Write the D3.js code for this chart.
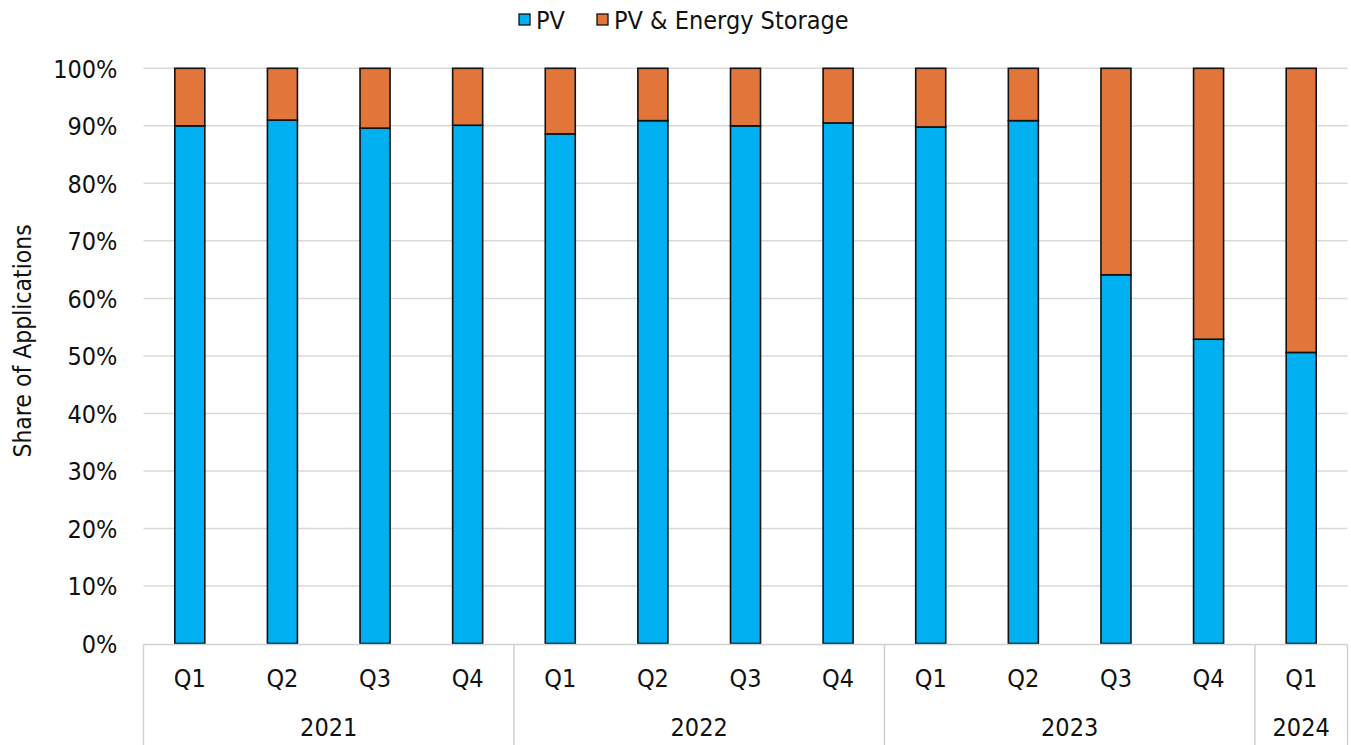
<!DOCTYPE html>
<html>
<head>
<meta charset="utf-8">
<script src="https://cdn.jsdelivr.net/npm/d3@7"></script>
<style>
  html, body { margin: 0; padding: 0; background: #fff; }
  svg { display: block; }
  text { font-family: "DejaVu Sans Condensed", "DejaVu Sans", "Liberation Sans", sans-serif; fill: #111; }
</style>
</head>
<body>
<svg id="chart" width="1351" height="745"></svg>
<script>
// Quarterly share of applications, PV only vs PV paired with energy storage (%)
const quarters = ["Q1", "Q2", "Q3", "Q4", "Q1", "Q2", "Q3", "Q4", "Q1", "Q2", "Q3", "Q4", "Q1"];
const years = ["2021", "2021", "2021", "2021", "2022", "2022", "2022", "2022", "2023", "2023", "2023", "2023", "2024"];
const pvShare = [90.0, 91.0, 89.6, 90.1, 88.6, 90.9, 90.0, 90.5, 89.8, 90.9, 64.1, 52.9, 50.6];
const storageShare = pvShare.map(v => 100 - v);
const seriesNames = ["PV", "PV & Energy Storage"];
const yTicks = [0, 10, 20, 30, 40, 50, 60, 70, 80, 90, 100];

(function () {
  const colors = { "PV": "#00B0F0", "PV & Energy Storage": "#E2763A" };
  const labelSize = "25px";

  const svg = d3.select("#chart");
  const W = 1351, H = 745;
  const plotLeft = 143.5, plotRight = 1347.5, plotTop = 68.3, plotBottom = 643.5;

  const rows = quarters.map((q, i) => ({
    key: i, quarter: q, year: years[i],
    "PV": pvShare[i], "PV & Energy Storage": storageShare[i]
  }));

  const x = d3.scaleBand().domain(rows.map(r => r.key)).range([plotLeft, plotRight])
    .paddingInner(0.676).paddingOuter(0.338);
  const y = d3.scaleLinear().domain([0, 100]).range([plotBottom, plotTop]);

  // Horizontal gridlines
  svg.append("g").selectAll("line").data(yTicks.filter(t => t > 0)).join("line")
    .attr("x1", plotLeft).attr("x2", plotRight)
    .attr("y1", d => y(d)).attr("y2", d => y(d))
    .attr("stroke", "#d9d9d9").attr("stroke-width", 1.5);

  // Y axis tick labels
  const yAxis = d3.axisLeft(y).tickValues(yTicks).tickFormat(d => d + "%").tickSize(0).tickPadding(0);
  const yg = svg.append("g").attr("transform", `translate(${plotLeft - 26},0)`).call(yAxis);
  yg.select(".domain").remove();
  yg.selectAll("text").attr("font-family", null).attr("font-size", null)
    .style("font-size", labelSize).attr("fill", "#111").attr("dy", "0.36em");

  // Stacked bars
  const layers = d3.stack().keys(seriesNames)(rows);
  svg.append("g").selectAll("g").data(layers).join("g")
    .attr("fill", d => colors[d.key])
    .selectAll("rect").data(d => d).join("rect")
    .attr("x", d => x(d.data.key))
    .attr("width", x.bandwidth())
    .attr("y", d => y(d[1]))
    .attr("height", d => y(d[0]) - y(d[1]))
    .attr("stroke", "#111").attr("stroke-width", 1.6);

  // Category axis: baseline, quarter labels, year groups
  const axisG = svg.append("g");
  axisG.append("line").attr("x1", plotLeft).attr("x2", plotRight)
    .attr("y1", plotBottom + 1).attr("y2", plotBottom + 1)
    .attr("stroke", "#d0d0d0").attr("stroke-width", 1.5);

  const xAxis = d3.axisBottom(x).tickFormat(i => quarters[i]).tickSize(0).tickPadding(0);
  const xg = svg.append("g").attr("transform", `translate(0,${plotBottom + 34})`).call(xAxis);
  xg.select(".domain").remove();
  xg.selectAll("text").attr("font-family", null).attr("font-size", null)
    .style("font-size", labelSize).attr("fill", "#111").attr("dy", "0.36em");

  // Year group boundaries and labels
  const groups = d3.groups(rows, r => r.year);
  const step = x.step();
  const edges = [];
  groups.forEach(([yr, items]) => {
    const first = items[0].key, last = items[items.length - 1].key;
    const x0 = plotLeft + first * step, x1 = plotLeft + (last + 1) * step;
    edges.push(x0);
    axisG.append("text").attr("x", (x0 + x1) / 2).attr("y", plotBottom + 83)
      .attr("text-anchor", "middle").attr("dy", "0.36em")
      .style("font-size", labelSize).text(yr);
  });
  edges.push(plotRight);
  axisG.selectAll("line.sep").data(edges).join("line").attr("class", "sep")
    .attr("x1", d => d).attr("x2", d => d)
    .attr("y1", plotBottom + 1).attr("y2", H)
    .attr("stroke", "#d0d0d0").attr("stroke-width", 1.5);

  // Y axis title
  svg.append("text")
    .attr("transform", `translate(22,${(plotTop + plotBottom) / 2 - 15}) rotate(-90)`)
    .attr("text-anchor", "middle").attr("dy", "0.36em")
    .style("font-size", "24.5px").text("Share of Applications");

  // Legend
  const legend = svg.append("g");
  const legendItems = [
    { name: seriesNames[0], x: 519 },
    { name: seriesNames[1], x: 597 }
  ];
  legendItems.forEach(it => {
    legend.append("rect").attr("x", it.x).attr("y", 14).attr("width", 11).attr("height", 11)
      .attr("fill", colors[it.name]).attr("stroke", "#111").attr("stroke-width", 1.3);
    legend.append("text").attr("x", it.x + 17).attr("y", 20).attr("dy", "0.36em")
      .style("font-size", labelSize).text(it.name);
  });
})();
</script>
</body>
</html>
